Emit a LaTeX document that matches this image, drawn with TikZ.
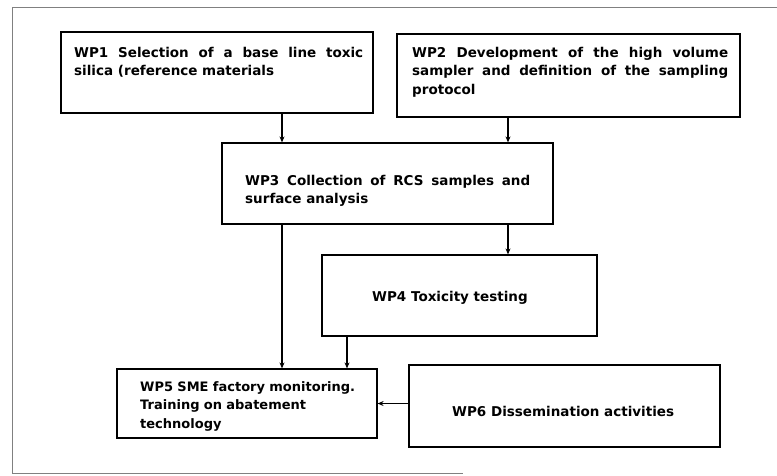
\documentclass[tikz,border=0pt]{standalone}
\usepackage{fontspec}
\setmainfont{DejaVu Sans}
\usetikzlibrary{arrows.meta}
\begin{document}
\begin{tikzpicture}[x=1pt,y=-1pt,
  box/.style={draw,line width=1.2pt,inner sep=0pt},
  txt/.style={inner sep=0pt,font=\bfseries\fontsize{13.5}{18.5}\selectfont},
  arr/.style={-{Stealth[length=6pt,width=5pt]},line width=1.2pt}]
\useasboundingbox (0,0) rectangle (777,475);
%frame
\draw[gray,line width=0.8pt](777,7)--(12,7)--(12,473)--(463,473);
%boxes
\node[box,minimum width=312pt,minimum height=81pt](wp1) at (217,72.5){};
\node[box,minimum width=343pt,minimum height=83pt](wp2) at (568.5,75.5){};
\node[box,minimum width=331pt,minimum height=81pt](wp3) at (387.5,183.5){};
\node[box,minimum width=275pt,minimum height=81pt](wp4) at (459.5,295.5){};
\node[box,minimum width=260pt,minimum height=69pt](wp5) at (247,403.5){};
\node[box,minimum width=311pt,minimum height=82pt](wp6) at (564.5,406){};
%texts
\node[txt,text width=289pt,align=justify,anchor=base west](t1) at (74,57)
  {WP1 Selection of a base line toxic\linebreak silica (reference materials};
\node[txt,text width=316pt,align=justify,anchor=base west](t2) at (412,57)
  {WP2 Development of the high volume\linebreak sampler and definition of the sampling\linebreak protocol};
\node[txt,text width=285pt,align=justify,anchor=base west](t3) at (245,185)
  {WP3 Collection of RCS samples and\linebreak surface analysis};
\node[txt,anchor=base west](t4) at (372,301){WP4 Toxicity testing};
\node[txt,font=\bfseries\fontsize{13}{18.5}\selectfont,text width=230pt,align=left,anchor=base west](t5) at (140,391)
  {WP5 SME factory monitoring.\\Training on abatement\\technology};
\node[txt,anchor=base west](t6) at (452,416){WP6 Dissemination activities};
%links
\coordinate(c1) at (282,0);
\coordinate(c2) at (508,0);
\coordinate(c3) at (347,0);
\draw[arr](wp1.south-|c1)--(wp3.north-|c1);
\draw[arr](wp2.south-|c2)--(wp3.north-|c2);
\draw[arr](wp3.south-|c2)--(wp4.north-|c2);
\draw[arr](wp3.south-|c1)--(wp5.north-|c1);
\draw[arr](wp4.south-|c3)--(wp5.north-|c3);
\draw[arr](wp6.west|-wp5.east)--(wp5.east);
\end{tikzpicture}
\end{document}
